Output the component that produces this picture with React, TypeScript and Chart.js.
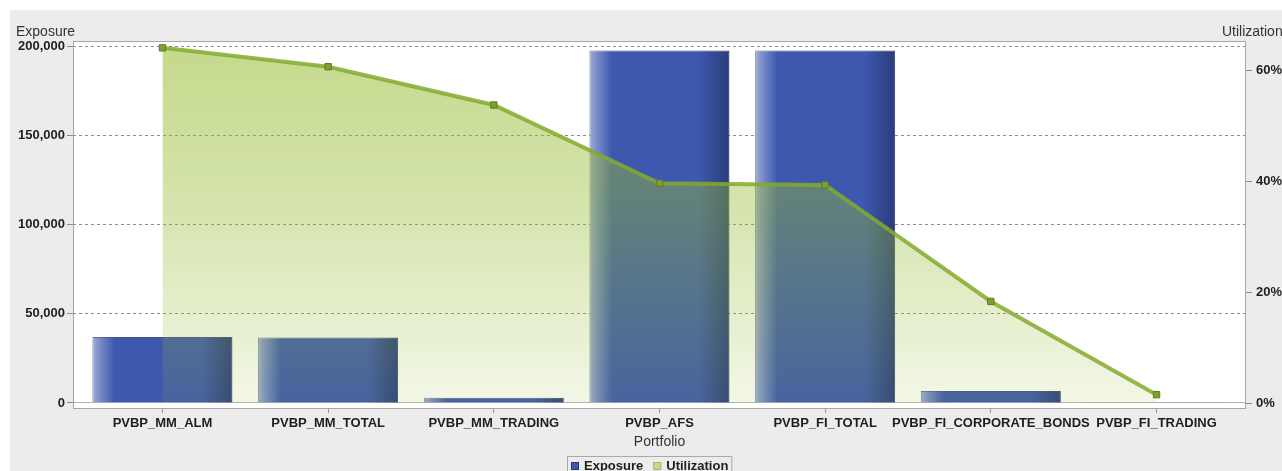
import React, { useEffect, useRef } from "react";
import { Chart, registerables } from "chart.js";

Chart.register(...registerables);

const FONT = "'Liberation Sans', Arial, Helvetica, sans-serif";

const categories = [
  "PVBP_MM_ALM",
  "PVBP_MM_TOTAL",
  "PVBP_MM_TRADING",
  "PVBP_AFS",
  "PVBP_FI_TOTAL",
  "PVBP_FI_CORPORATE_BONDS",
  "PVBP_FI_TRADING",
];
const exposure = [37000, 36800, 3000, 197800, 197800, 6700, 400];
const utilization = [64.0, 60.6, 53.7, 39.6, 39.3, 18.3, 1.5];
const exposureTicks = [0, 50000, 100000, 150000, 200000];
const utilizationTicks = [0, 20, 40, 60];
const exposureRange = { min: -2810, max: 203200 };
const utilizationRange = { min: -0.9, max: 65.23 };

const leftTitle = "Exposure";
const rightTitle = "Utilization";
const xTitle = "Portfolio";
const legendItems = [
  { label: "Exposure", fill: "#3d58ae", stroke: "#24336e" },
  { label: "Utilization", fill: "#c4d98c", stroke: "#a3bd66" },
];

function fmt(n: number): string {
  return String(Math.round(n)).replace(/\B(?=(\d{3})+(?!\d))/g, ",");
}

export default function App() {
  const ref = useRef<HTMLCanvasElement>(null);

  useEffect(() => {
    const canvas = ref.current;
    if (!canvas) return;

    const decor = {
      id: "decor",
      beforeDraw(chart: any) {
        const { ctx, width, height, chartArea } = chart;
        ctx.save();
        ctx.fillStyle = "#ffffff";
        ctx.fillRect(0, 0, width, height);
        ctx.fillStyle = "#ececec";
        ctx.fillRect(10, 10, width - 10, height - 10);
        ctx.fillStyle = "#ffffff";
        ctx.fillRect(chartArea.left, chartArea.top, chartArea.right - chartArea.left, chartArea.bottom - chartArea.top);
        ctx.restore();
      },
      afterDatasetDraw(chart: any, args: any) {
        const meta = args.meta;
        if (meta.type !== "bar") return;
        const ctx = chart.ctx;
        ctx.save();
        for (const el of meta.data) {
          const p = el.getProps(["x", "y", "base", "width"], true);
          const left = p.x - p.width / 2;
          const top = Math.min(p.y, p.base);
          const h = Math.abs(p.base - p.y);
          if (h < 0.5) continue;
          const g = ctx.createLinearGradient(left, 0, left + p.width, 0);
          g.addColorStop(0, "rgba(255,255,255,0.5)");
          g.addColorStop(0.05, "rgba(255,255,255,0.32)");
          g.addColorStop(0.16, "rgba(255,255,255,0)");
          g.addColorStop(0.78, "rgba(0,0,0,0)");
          g.addColorStop(1, "rgba(0,0,20,0.32)");
          ctx.fillStyle = g;
          ctx.fillRect(left + 0.5, top + 0.5, p.width - 1, h - 0.5);
        }
        ctx.restore();
      },
      afterDraw(chart: any) {
        const { ctx, chartArea } = chart;
        ctx.save();
        // plot border
        ctx.strokeStyle = "#a6a6a6";
        ctx.lineWidth = 1;
        ctx.strokeRect(chartArea.left + 0.5, chartArea.top + 0.5, chartArea.right - chartArea.left - 1, chartArea.bottom - chartArea.top);
        // axis titles
        ctx.fillStyle = "#333333";
        ctx.font = `14px ${FONT}`;
        ctx.textBaseline = "middle";
        ctx.textAlign = "left";
        ctx.fillText(leftTitle, 16, 32);
        ctx.fillText(rightTitle, 1222, 32);
        ctx.textAlign = "center";
        ctx.fillText(xTitle, (chartArea.left + chartArea.right) / 2, 442);
        // legend
        ctx.font = `bold 13px ${FONT}`;
        ctx.textAlign = "left";
        const boxLeft = 567;
        let x = boxLeft + 4;
        const sq = 8;
        const cy = 466;
        for (let i = 0; i < legendItems.length; i++) {
          const it = legendItems[i];
          ctx.fillStyle = it.fill;
          ctx.fillRect(x, cy - 4, sq, sq);
          ctx.strokeStyle = it.stroke;
          ctx.strokeRect(x + 0.5, cy - 3.5, sq - 1, sq - 1);
          x += sq + 5;
          ctx.fillStyle = "#1e1e1e";
          ctx.fillText(it.label, x, cy);
          x += ctx.measureText(it.label).width;
          if (i < legendItems.length - 1) x += 10;
        }
        const boxRight = x + 3;
        ctx.strokeStyle = "#a9a9a9";
        ctx.strokeRect(boxLeft + 0.5, 456.5, boxRight - boxLeft, 24);
        ctx.restore();
      },
    };

    const chart = new Chart(canvas, {
      type: "bar",
      data: {
        labels: categories,
        datasets: [
          {
            type: "bar",
            label: "Exposure",
            data: exposure,
            yAxisID: "y",
            xAxisID: "x",
            backgroundColor: "#3d58ae",
            borderColor: "rgba(36,50,105,0.85)",
            borderWidth: 1,
            categoryPercentage: 1,
            barPercentage: 0.845,
            order: 1,
          } as any,
          {
            type: "line",
            label: "Utilization",
            data: utilization,
            yAxisID: "y1",
            xAxisID: "x",
            borderColor: "rgba(130,170,45,0.85)",
            borderWidth: 4,
            tension: 0,
            fill: "origin",
            backgroundColor: (c: any) => {
              const { ctx, chartArea } = c.chart;
              if (!chartArea) return "rgba(150,188,50,0.35)";
              const g = ctx.createLinearGradient(0, chartArea.top, 0, chartArea.bottom);
              g.addColorStop(0, "rgba(150,188,50,0.57)");
              g.addColorStop(0.45, "rgba(150,188,50,0.4)");
              g.addColorStop(1, "rgba(150,188,50,0.11)");
              return g;
            },
            pointStyle: "rect",
            pointRadius: 4.5,
            pointBackgroundColor: "#7f9f33",
            pointBorderColor: "#5f7d1e",
            pointBorderWidth: 1,
            order: 0,
          } as any,
        ],
      },
      options: {
        responsive: false,
        maintainAspectRatio: false,
        animation: false,
        devicePixelRatio: 1,
        layout: { padding: { top: 41, left: 0, right: 0, bottom: 0 } },
        plugins: {
          legend: { display: false },
          tooltip: { enabled: false },
          title: { display: false },
        },
        scales: {
          x: {
            type: "category",
            offset: true,
            grid: {
              display: true,
              drawOnChartArea: false,
              drawTicks: true,
              tickLength: 5,
              color: "#9a9a9a",
              offset: false,
            },
            border: { display: false },
            ticks: {
              font: { family: FONT, size: 13, weight: "bold" },
              color: "#1e1e1e",
              padding: 3,
              maxRotation: 0,
              autoSkip: false,
            },
            afterBuildTicks: (s: any) => {
              s._startValue = -0.54;
              s._valueRange = categories.length - 1 + 1.08;
            },
            afterFit: (s: any) => {
              s.height = 63;
            },
          },
          y: {
            type: "linear",
            position: "left",
            min: exposureRange.min,
            max: exposureRange.max,
            afterBuildTicks: (s: any) => {
              s.ticks = exposureTicks.map((v) => ({ value: v }));
            },
            ticks: {
              callback: (v: any) => fmt(Number(v)),
              font: { family: FONT, size: 13, weight: "bold" },
              color: "#1e1e1e",
              padding: 2,
            },
            grid: {
              color: (c: any) => (c.tick && c.tick.value === 0 ? "#b4b4b4" : "#8c8c8c"),
              tickColor: "#8c8c8c",
              tickLength: 6,
              lineWidth: 1,
            },
            border: {
              display: false,
              dash: (c: any) => (c.tick && c.tick.value === 0 ? [] : [3, 3]),
            },
            afterFit: (s: any) => {
              s.width = 73;
            },
          },
          y1: {
            type: "linear",
            position: "right",
            min: utilizationRange.min,
            max: utilizationRange.max,
            afterBuildTicks: (s: any) => {
              s.ticks = utilizationTicks.map((v) => ({ value: v }));
            },
            ticks: {
              callback: (v: any) => `${v}%`,
              font: { family: FONT, size: 13, weight: "bold" },
              color: "#1e1e1e",
              padding: 4,
            },
            grid: {
              drawOnChartArea: false,
              drawTicks: true,
              tickLength: 6,
              color: "#8c8c8c",
            },
            border: { display: false },
            afterFit: (s: any) => {
              s.width = 36;
            },
          },
        },
      } as any,
      plugins: [decor],
    });

    return () => chart.destroy();
  }, []);

  return (
    <div style={{ position: "fixed", left: 0, top: 0, width: 1282, height: 471, background: "#fff" }}>
      <canvas ref={ref} width={1282} height={471} style={{ display: "block", width: 1282, height: 471 }} />
    </div>
  );
}
